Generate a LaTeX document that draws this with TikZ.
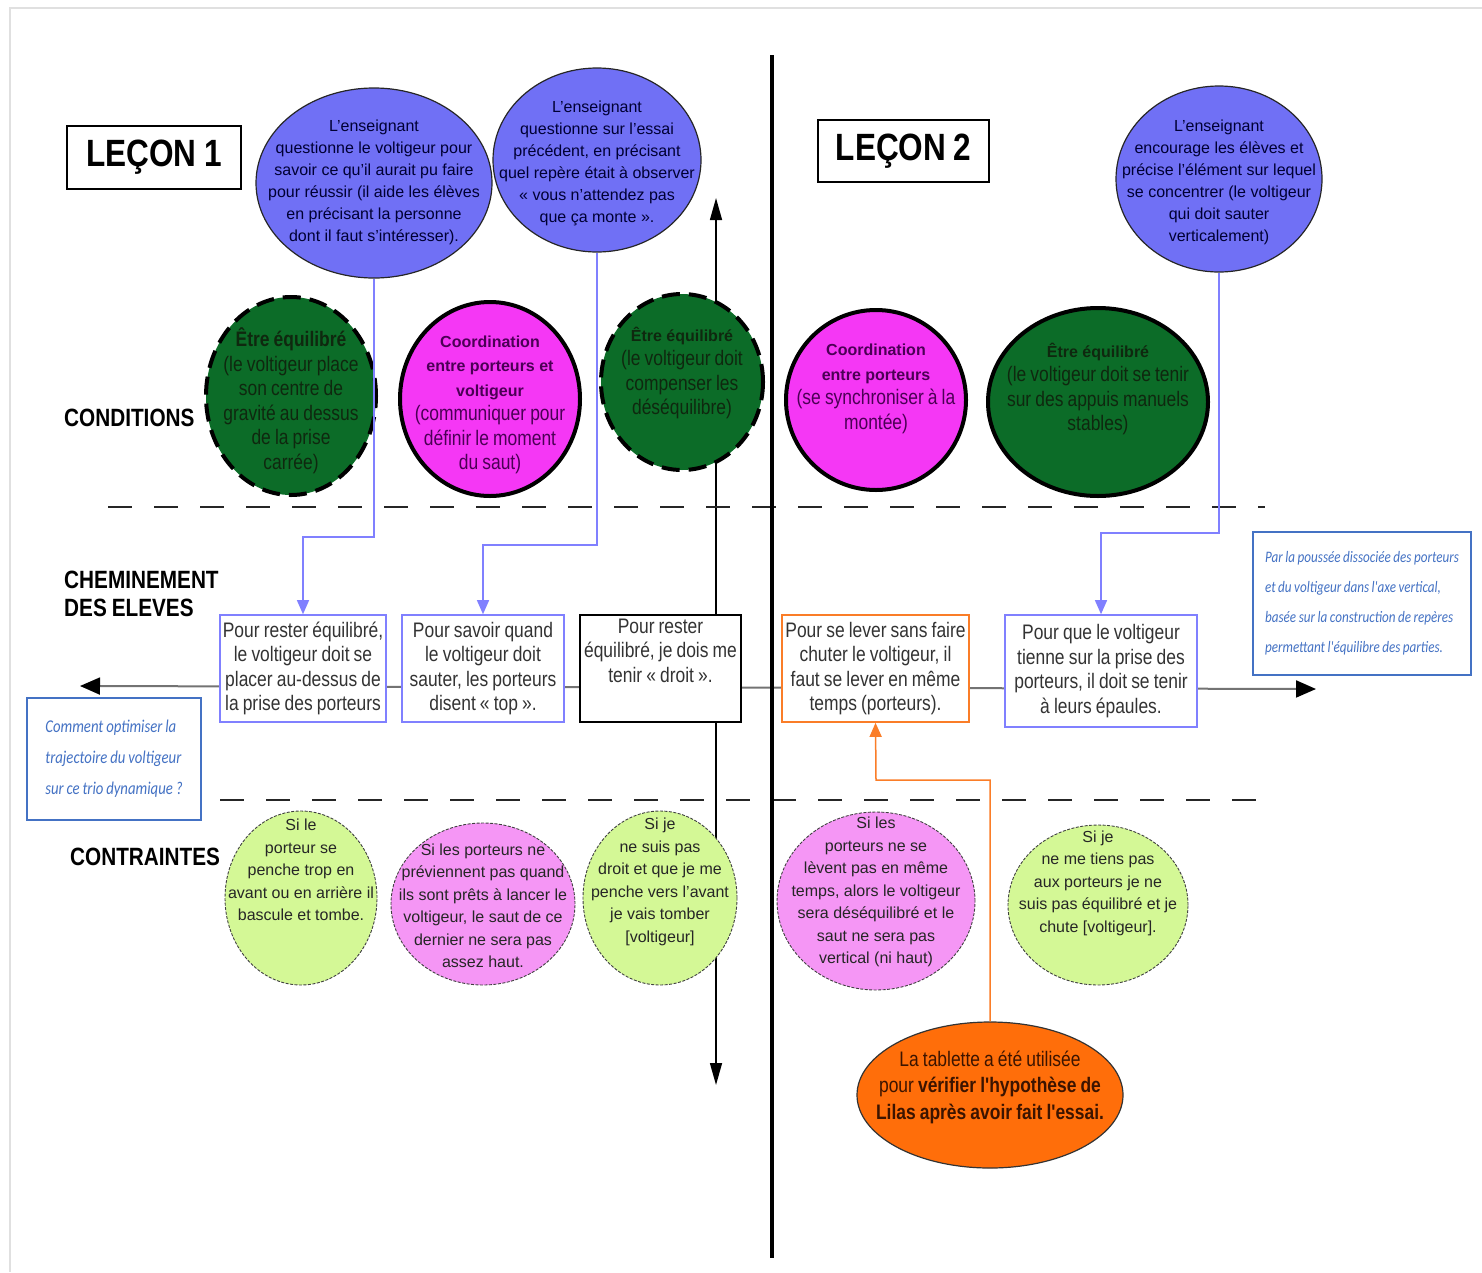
\documentclass[tikz,border=0pt]{standalone}
\usepackage{fontspec}
\setmainfont{Liberation Sans}
\newfontfamily\narrow{Liberation Sans}[FakeStretch=0.83,WordSpace=0.85]
\newfontfamily\notefont{Carlito}[FakeStretch=0.82,WordSpace=0.85]
\usetikzlibrary{shapes.geometric,arrows.meta}
\definecolor{askblue}{RGB}{112,112,245}
\definecolor{condgreen}{RGB}{12,108,40}
\definecolor{condpink}{RGB}{245,55,245}
\definecolor{riskgreen}{RGB}{212,248,150}
\definecolor{riskpink}{RGB}{245,150,245}
\definecolor{linkblue}{RGB}{128,128,255}
\definecolor{noteblue}{RGB}{68,114,196}
\definecolor{taborange}{RGB}{255,110,10}
\definecolor{linkorange}{RGB}{250,125,40}
\newcommand\headfont{\normalfont\bfseries\fontsize{16}{24}\selectfont}
\tikzset{
  askball/.style={ellipse, draw=black!85, line width=1.2pt, fill=askblue, inner sep=0pt},
  asktext/.style={align=flush center, text width=260pt, inner sep=0pt, text=black!80!blue,
    font=\fontsize{16}{22}\selectfont},
  greenball/.style={ellipse, draw=black, line width=4pt, fill=condgreen, inner sep=0pt},
  dashball/.style={greenball, dash pattern=on 18pt off 9pt},
  pinkball/.style={ellipse, draw=black, line width=4pt, fill=condpink, inner sep=0pt},
  condtext/.style={align=flush center, text width=240pt, inner sep=0pt,
    font=\narrow\fontsize{21}{24.5}\selectfont},
  riskball/.style={ellipse, draw=black!75, line width=0.9pt, dash pattern=on 3pt off 1.5pt, inner sep=0pt},
  risktext/.style={align=flush center, text width=240pt, inner sep=0pt, text=black!85,
    font=\fontsize{16}{22.5}\selectfont},
  pathbox/.style={draw=linkblue, line width=1.6pt, fill=white, align=center, inner sep=1pt,
    font=\narrow\fontsize{21}{24.5}\selectfont, text=black!80},
  lessonbox/.style={draw=black, line width=1.2pt, font=\narrow\bfseries\fontsize{38}{40}\selectfont},
  rowlabel/.style={anchor=west, align=left, inner sep=0pt, font=\narrow\bfseries\fontsize{25}{28}\selectfont},
  notebox/.style={draw=noteblue, line width=1.2pt, fill=white, align=left, text=noteblue},
  asklink/.style={draw=linkblue, line width=1.3pt, -{Triangle[length=14pt,width=12pt]}},
  tablink/.style={draw=linkorange, line width=1.5pt, -{Triangle[length=14pt,width=12pt]}},
  separator/.style={black!85, line width=2pt, dash pattern=on 24pt off 22pt},
  timeline/.style={black!55, line width=2pt, {Triangle[length=20pt,width=17pt,black]}-{Triangle[length=20pt,width=17pt,black]}},
  stepline/.style={black, line width=1.5pt, {Triangle[length=22pt,width=12pt]}-{Triangle[length=22pt,width=12pt]}}
}
\begin{document}
\begin{tikzpicture}[x=1pt,y=-1pt]
  \useasboundingbox (0,0) rectangle (1482,1272);
  \draw[black!12, line width=2pt] (10,1272) |- (1482,8);
  \coordinate (lend) at (80,686);
  \coordinate (rend) at (1316,689);
  \coordinate (vtop) at (716,198);
  \coordinate (vbot) at (716,1085);
  \draw[timeline] (lend) -- (rend);
  \draw[stepline] (vbot) -- (vtop);
  \draw[separator] (108,507) -- (1265,507);
  \draw[separator] (220,800) -- (1275,800);

  \node[lessonbox, minimum width=174pt, minimum height=63pt] (l1) at (154,157.5) {LEÇON 1};
  \node[lessonbox, minimum width=171pt, minimum height=62pt] (l2) at (903.5,151) {LEÇON 2};
  \node[rowlabel] (cond) at (64,418) {CONDITIONS};
  \node[rowlabel] (chem) at (64,594) {CHEMINEMENT\\DES ELEVES};
  \node[rowlabel] (contr) at (70,857) {CONTRAINTES};

  \node[askball, minimum width=236pt, minimum height=190pt] (e1) at (374,183) {};
  \node[askball, minimum width=208pt, minimum height=184pt] (e2) at (597,160) {};
  \node[askball, minimum width=206pt, minimum height=186pt] (e3) at (1219,179) {};
  \node[asktext] (e1t) at (374,182) {L'enseignant\\questionne le voltigeur pour\\savoir ce qu'il aurait pu faire\\pour réussir (il aide les élèves\\en précisant la personne\\dont il faut s'intéresser).};
  \node[asktext] (e2t) at (597,163) {L'enseignant\\questionne sur l'essai\\précédent, en précisant\\quel repère était à observer\\« vous n'attendez pas\\que ça monte ».};
  \node[asktext] (e3t) at (1219,182) {L'enseignant\\encourage les élèves et\\précise l'élément sur lequel\\se concentrer (le voltigeur\\qui doit sauter\\verticalement)};

  \node[dashball, minimum width=170pt, minimum height=198pt] (c1) at (291,396) {};
  \node[pinkball, minimum width=180pt, minimum height=194pt] (c2) at (490,399) {};
  \node[dashball, minimum width=162pt, minimum height=176pt] (c3) at (682,382) {};
  \node[pinkball, minimum width=180pt, minimum height=180pt] (c4) at (876,400) {};
  \node[greenball, minimum width=220pt, minimum height=188pt] (c5) at (1098,402) {};
  \node[condtext, text={rgb,255:red,15;green,40;blue,15}] (c1t) at (291,401) {\textbf{Être équilibré}\\(le voltigeur place\\son centre de\\gravité au dessus\\de la prise\\carrée)};
  \node[condtext, text={rgb,255:red,75;green,0;blue,85}] (c2t) at (490,405) {{\headfont Coordination\\entre porteurs et\\voltigeur}\\(communiquer pour\\définir le moment\\du saut)};
  \node[condtext, text={rgb,255:red,15;green,40;blue,15}] (c3t) at (682,373) {{\headfont Être équilibré}\\(le voltigeur doit\\compenser les\\déséquilibre)};
  \node[condtext, text={rgb,255:red,75;green,0;blue,85}] (c4t) at (876,389) {{\headfont Coordination\\entre porteurs}\\(se synchroniser à la\\montée)};
  \node[condtext, text={rgb,255:red,15;green,40;blue,15}] (c5t) at (1098,389) {{\headfont Être équilibré}\\(le voltigeur doit se tenir\\sur des appuis manuels\\stables)};

  \node[pathbox, minimum width=166pt, minimum height=107pt] (b1) at (303,668.5) {Pour rester équilibré,\\le voltigeur doit se\\placer au-dessus de\\la prise des porteurs};
  \node[pathbox, minimum width=162pt, minimum height=107pt] (b2) at (483,668.5) {Pour savoir quand\\le voltigeur doit\\sauter, les porteurs\\disent « top ».};
  \node[pathbox, draw=black, text depth=36pt, minimum width=161pt, minimum height=107pt] (b3) at (660.5,668.5) {Pour rester\\équilibré, je dois me\\tenir « droit ».};
  \node[pathbox, draw=linkorange, minimum width=187pt, minimum height=107pt] (b4) at (875.5,668.5) {Pour se lever sans faire\\chuter le voltigeur, il\\faut se lever en même\\temps (porteurs).};
  \node[pathbox, minimum width=192pt, minimum height=112pt] (b5) at (1101,671) {Pour que le voltigeur\\tienne sur la prise des\\porteurs, il doit se tenir\\à leurs épaules.};

  \node[notebox, minimum width=174pt, minimum height=122pt, font=\notefont\itshape\fontsize{18}{31}\selectfont] (qnote) at (114,759) {Comment optimiser la\\trajectoire du voltigeur\\sur ce trio dynamique ?};
  \node[notebox, minimum width=218pt, minimum height=143pt, font=\notefont\itshape\fontsize{16}{30}\selectfont] (anote) at (1362,603.5) {Par la poussée dissociée des porteurs\\et du voltigeur dans l'axe vertical,\\basée sur la construction de repères\\permettant l'équilibre des parties.};

  \node[riskball, fill=riskgreen, minimum width=152pt, minimum height=174pt] (k1) at (301,898) {};
  \node[riskball, fill=riskpink, minimum width=184pt, minimum height=162pt] (k2) at (483,904) {};
  \node[riskball, fill=riskgreen, minimum width=154pt, minimum height=174pt] (k3) at (660,898) {};
  \node[riskball, fill=riskpink, minimum width=198pt, minimum height=178pt] (k4) at (876,901) {};
  \node[riskball, fill=riskgreen, minimum width=180pt, minimum height=160pt] (k5) at (1098,905) {};
  \node[risktext] (k1t) at (301,870) {Si le\\porteur se\\penche trop en\\avant ou en arrière il\\bascule et tombe.};
  \node[risktext] (k2t) at (483,906) {Si les porteurs ne\\préviennent pas quand\\ils sont prêts à lancer le\\voltigeur, le saut de ce\\dernier ne sera pas\\assez haut.};
  \node[risktext] (k3t) at (660,882) {Si je\\ne suis pas\\droit et que je me\\penche vers l'avant\\je vais tomber\\{[}voltigeur{]}};
  \node[risktext] (k4t) at (876,892) {Si les\\porteurs ne se\\lèvent pas en même\\temps, alors le voltigeur\\sera déséquilibré et le\\saut ne sera pas\\vertical (ni haut)};
  \node[risktext] (k5t) at (1098,883) {Si je\\ne me tiens pas\\aux porteurs je ne\\suis pas équilibré et je\\chute {[}voltigeur{]}.};

  \node[ellipse, draw=black!80, line width=1.2pt, fill=taborange, inner sep=0pt, minimum width=266pt, minimum height=146pt] (tab) at (990,1095) {};
  \node[condtext, text={rgb,255:red,60;green,20;blue,0}, font=\narrow\fontsize{21}{26.5}\selectfont] (tabt) at (990,1087) {La tablette a été utilisée\\pour \textbf{vérifier l'hypothèse de}\\\textbf{Lilas après avoir fait l'essai.}};

  \coordinate (turn1) at (303,537);
  \coordinate (turn2) at (483,545);
  \coordinate (turn3) at (1101,533);
  \coordinate (turn4) at (876,780);
  \begin{scope}
    \draw[asklink] (e1.south) |- (turn1) -- (b1.north);
    \draw[asklink] (e2.south) |- (turn2) -- (b2.north);
    \draw[asklink] (e3.south) |- (turn3) -- (b5.north);
    \draw[tablink] (tab.north) |- (turn4) -- (b4.south);
  \end{scope}
  \draw[black, line width=4.5pt] (772,55) -- (772,1258);
\end{tikzpicture}
\end{document}
